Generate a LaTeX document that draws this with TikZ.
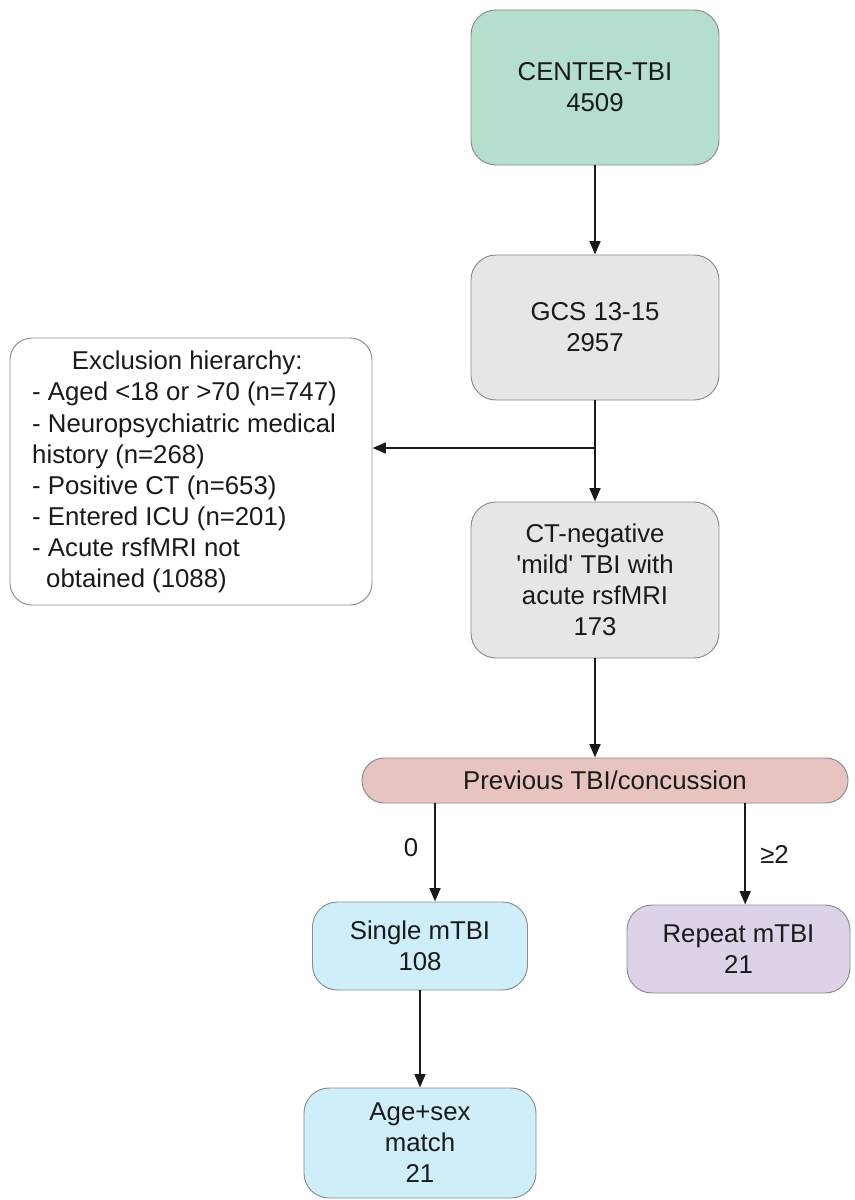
\documentclass[tikz,border=0pt]{standalone}
\usepackage{fontspec}
\setmainfont{Liberation Sans}
\usetikzlibrary{arrows.meta}
\definecolor{mint}{HTML}{B4DFCC}
\definecolor{lightgr}{HTML}{E6E6E6}
\definecolor{rose}{HTML}{E8C4C0}
\definecolor{skyb}{HTML}{CEEEFA}
\definecolor{lilac}{HTML}{DDD2E8}
\definecolor{edge}{HTML}{8A8A8A}
\definecolor{ink}{HTML}{1A1A1A}

\begin{document}
\begin{tikzpicture}[x=0.03cm, y=-0.03cm,
        font=\fontsize{22}{26.5}\selectfont, text=ink,
        box/.style={draw=edge, line width=0.8pt, rounded corners=0.75cm, align=center, inner sep=0pt},
        arr/.style={-{Triangle[length=0.4cm,width=0.32cm]}, line width=2pt, draw=ink}]
        \useasboundingbox (0,0) rectangle (854,1200);
        \node[box, fill=mint, minimum width=7.44cm, minimum height=4.65cm] (center) at (595,87.5) {CENTER-TBI\\4509};
        \node[box, fill=lightgr, minimum width=7.44cm, minimum height=4.35cm] (gcs) at (595,327.5) {GCS 13-15\\2957};
        \node[box, fill=lightgr, minimum width=7.44cm, minimum height=4.68cm] (ctneg) at (595,580) {CT-negative\\\textquotesingle mild\textquotesingle{} TBI with\\acute rsfMRI\\173};
        \node[box, rounded corners=0.66cm, minimum width=10.86cm, minimum height=8.01cm, align=left] (excl) at (191,471.5) {};
        \node[anchor=north west, align=left, inner sep=0pt] (excltext) at (32,351) {\makebox[9.3cm][c]{Exclusion hierarchy:}\\- Aged <18 or >70 (n=747)\\- Neuropsychiatric medical\\history (n=268)\\- Positive CT (n=653)\\- Entered ICU (n=201)\\- Acute rsfMRI not\\\hspace*{0.42cm}obtained (1088)};
        \node[box, fill=rose, rounded corners=0.67cm, minimum width=14.58cm, minimum height=1.35cm] (prev) at (605,780.5) {Previous TBI/concussion};
        \node[box, fill=skyb, minimum width=6.45cm, minimum height=2.64cm] (single) at (420,946) {Single mTBI\\108};
        \node[box, fill=lilac, minimum width=6.69cm, minimum height=2.64cm] (repeat) at (738.5,949) {Repeat mTBI\\21};
        \node[box, fill=skyb, minimum width=6.96cm, minimum height=3.3cm] (agesex) at (420,1143) {Age+sex\\match\\21};

        \coordinate (split) at (595,448);
        \draw[arr] (center) -- (gcs);
        \draw[arr] (gcs) -- (ctneg);
        \draw[arr] (split) -- (split -| excl.east);
        \draw[arr] (ctneg) -- (ctneg.south |- prev.north);
        \draw[arr] ([xshift=0.45cm]single.north |- prev.south) -- ([xshift=0.45cm]single.north) node[midway, left=0.35cm, yshift=0.15cm] {0};
        \draw[arr] ([xshift=0.2cm]repeat.north |- prev.south) -- ([xshift=0.2cm]repeat.north) node[midway, right=0.3cm] {≥2};
        \draw[arr] (single) -- (agesex);
    \end{tikzpicture}
\end{document}
